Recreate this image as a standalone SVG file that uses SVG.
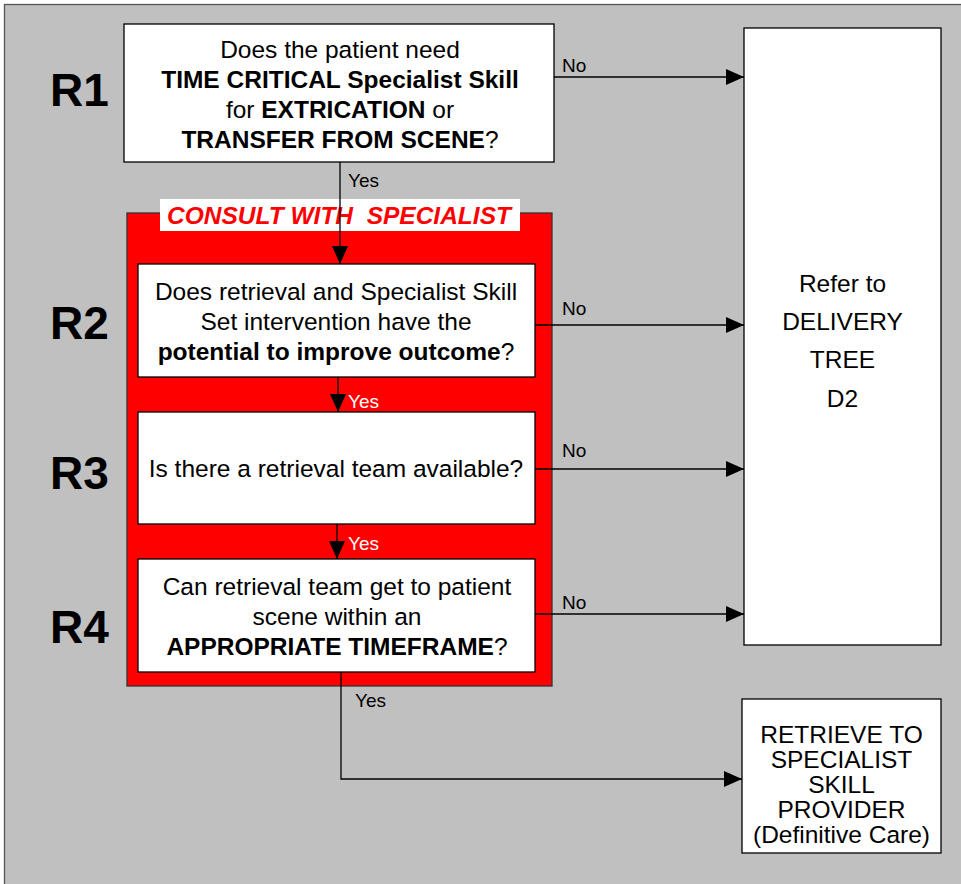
<svg xmlns="http://www.w3.org/2000/svg" width="961" height="884" viewBox="0 0 961 884">
<defs>
<style>
.box{fill:#fff;stroke:#000;stroke-width:1.3}
.t{font-family:"Liberation Sans",Arial,sans-serif;font-size:24.5px;fill:#000;text-anchor:middle}
.b{font-weight:bold}
.lab{font-family:"Liberation Sans",Arial,sans-serif;font-size:46px;font-weight:bold;fill:#000}
.yn{font-family:"Liberation Sans",Arial,sans-serif;font-size:19px;fill:#000}
.w{fill:#fff}
.c{fill:none;stroke:#000;stroke-width:1.3}
</style>
<marker id="ah" markerUnits="userSpaceOnUse" markerWidth="18" markerHeight="18" viewBox="0 0 18 18" refX="18" refY="9" orient="auto">
<path d="M0,1 L18,9 L0,17 Z" fill="#000"/>
</marker>
</defs>
<rect x="4.5" y="4.5" width="970" height="890" fill="#c0c0c0" stroke="#555" stroke-width="1.3"/>

<g id="consult">
<rect x="127" y="213" width="425" height="473" fill="#ff0000" stroke="#333" stroke-width="1.3"/>
<rect x="160" y="199" width="360" height="32" fill="#fff"/>
<text x="339" y="224" class="t b" style="font-style:italic;fill:#ff0000" xml:space="preserve">CONSULT WITH  SPECIALIST</text>
</g>

<g id="labels">
<text x="50" y="106" class="lab">R1</text>
<text x="50" y="339" class="lab">R2</text>
<text x="50" y="489" class="lab">R3</text>
<text x="50" y="643" class="lab">R4</text>
</g>

<g id="connectors">
<line class="c" x1="554" y1="77" x2="744" y2="77" marker-end="url(#ah)"/>
<line class="c" x1="535" y1="325" x2="744" y2="325" marker-end="url(#ah)"/>
<line class="c" x1="535" y1="469" x2="744" y2="469" marker-end="url(#ah)"/>
<line class="c" x1="535" y1="614" x2="744" y2="614" marker-end="url(#ah)"/>
<line class="c" x1="340" y1="162" x2="340" y2="264" marker-end="url(#ah)"/>
<line class="c" x1="338" y1="377" x2="338" y2="412" marker-end="url(#ah)"/>
<line class="c" x1="337" y1="524" x2="337" y2="559" marker-end="url(#ah)"/>
<polyline class="c" points="341,672 341,779 742,779" marker-end="url(#ah)"/>
<text x="562" y="72" class="yn">No</text>
<text x="562" y="315" class="yn">No</text>
<text x="562" y="457" class="yn">No</text>
<text x="562" y="609" class="yn">No</text>
<text x="348" y="187" class="yn">Yes</text>
<text x="348" y="408" class="yn w">Yes</text>
<text x="348" y="550" class="yn w">Yes</text>
<text x="355" y="707" class="yn">Yes</text>
</g>

<g id="r1">
<rect class="box" x="124" y="24" width="430" height="138"/>
<text x="340" y="58" class="t">Does the patient need</text>
<text x="340" y="88" class="t b">TIME CRITICAL Specialist Skill</text>
<text x="340" y="118" class="t">for <tspan class="b">EXTRICATION</tspan> or</text>
<text x="340" y="148" class="t"><tspan class="b">TRANSFER FROM SCENE</tspan>?</text>
</g>

<g id="r2">
<rect class="box" x="138" y="264" width="397" height="113"/>
<text x="336" y="300" class="t">Does retrieval and Specialist Skill</text>
<text x="336" y="330" class="t">Set intervention have the</text>
<text x="336" y="360" class="t"><tspan class="b">potential to improve outcome</tspan>?</text>
</g>

<g id="r3">
<rect class="box" x="138" y="412" width="397" height="112"/>
<text x="336" y="477" class="t">Is there a retrieval team available?</text>
</g>

<g id="r4">
<rect class="box" x="138" y="559" width="397" height="113"/>
<text x="337" y="595" class="t">Can retrieval team get to patient</text>
<text x="337" y="625" class="t">scene within an</text>
<text x="337" y="655" class="t"><tspan class="b">APPROPRIATE TIMEFRAME</tspan>?</text>
</g>

<g id="d2">
<rect class="box" x="744" y="28" width="197" height="617"/>
<text x="842.5" y="292" class="t">Refer to</text>
<text x="842.5" y="330" class="t">DELIVERY</text>
<text x="842.5" y="368" class="t">TREE</text>
<text x="842.5" y="407" class="t">D2</text>
</g>

<g id="retrieve">
<rect class="box" x="742" y="699" width="199" height="154"/>
<text x="841.5" y="743" class="t">RETRIEVE TO</text>
<text x="841.5" y="768" class="t">SPECIALIST</text>
<text x="841.5" y="793" class="t">SKILL</text>
<text x="841.5" y="818" class="t">PROVIDER</text>
<text x="841.5" y="843" class="t">(Definitive Care)</text>
</g>
</svg>
